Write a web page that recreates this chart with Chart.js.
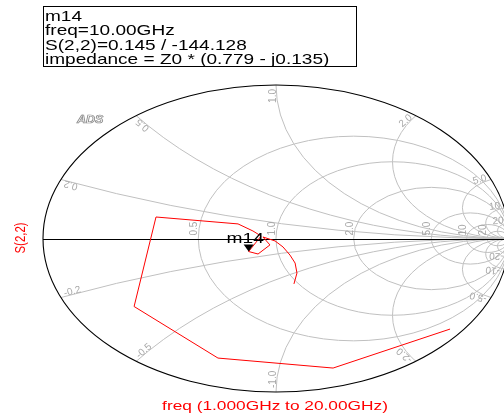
<!DOCTYPE html>
<html>
<head>
<meta charset="utf-8">
<script src="https://cdn.jsdelivr.net/npm/chart.js@4/dist/chart.umd.min.js"></script>
<style>
  html, body { margin: 0; padding: 0; background: #fff; }
  #c { display: block; }
</style>
</head>
<body>
<canvas id="c" width="504" height="416"></canvas>
<script>
const traceRe = [0.077, 0.090, 0.082, 0.060, 0.030, -0.004, -0.056, -0.026, -0.077, -0.1175, -0.064, -0.099, -0.163, -0.515, -0.609, -0.249, 0.245, 0.747];
const traceIm = [-0.296, -0.225, -0.160, -0.108, -0.055, -0.016, 0.010, -0.042, -0.101, -0.0849, 0.016, 0.049, 0.095, 0.140, -0.443, -0.779, -0.844, -0.590];
const markerIndex = 9;   // m14 at 10 GHz
const markerName = "m14";
const markerLines = ["m14", "freq=10.00GHz", "S(2,2)=0.145 / -144.128", "impedance = Z0 * (0.779 - j0.135)"];

// Smith chart grid values
const resistanceCircles = [0.5, 1, 2, 5, 10, 20];
const resistanceLabels = ["0.5", "1.0", "2.0", "5.0", "10", "20"];
const reactanceArcs = [0.2, 0.5, 1, 2, 5, 10, 20];
const reactanceLabels = ["0.2", "0.5", "1.0", "2.0", "5.0", "10", "20"];

const yTitle = "S(2,2)";
const xTitle = "freq (1.000GHz to 20.00GHz)";

const points = traceRe.map((re, i) => ({ x: re, y: traceIm[i] }));

const smithPlugin = {
  id: 'smith',
  beforeDatasetsDraw(chart) {
    const ctx = chart.ctx;
    const xs = chart.scales.x, ys = chart.scales.y;
    const X = v => xs.getPixelForValue(v), Y = v => ys.getPixelForValue(v);
    const cx = X(0), cy = Y(0);
    const rx = X(1) - cx, ry = cy - Y(1);

    ctx.save();
    // grid clipped to unit circle
    ctx.save();
    ctx.beginPath();
    ctx.ellipse(cx, cy, rx, ry, 0, 0, Math.PI * 2);
    ctx.clip();
    ctx.strokeStyle = '#c0c0c0';
    ctx.lineWidth = 1;
    resistanceCircles.forEach(r => {
      const gc = r / (r + 1), rad = 1 / (r + 1);
      ctx.beginPath();
      ctx.ellipse(X(gc), cy, rad * rx, rad * ry, 0, 0, Math.PI * 2);
      ctx.stroke();
    });
    reactanceArcs.forEach(xv => {
      [1, -1].forEach(s => {
        const rad = 1 / xv;
        ctx.beginPath();
        ctx.ellipse(X(1), Y(s / xv), rad * rx, rad * ry, 0, 0, Math.PI * 2);
        ctx.stroke();
      });
    });
    ctx.restore();

    // outer circle and real axis
    ctx.strokeStyle = '#000';
    ctx.lineWidth = 1.1;
    ctx.beginPath();
    ctx.ellipse(cx, cy, rx, ry, 0, 0, Math.PI * 2);
    ctx.stroke();
    ctx.lineWidth = 1;
    ctx.beginPath();
    ctx.moveTo(X(-1), Math.round(cy) + 0.5);
    ctx.lineTo(X(1), Math.round(cy) + 0.5);
    ctx.stroke();

    // grid labels
    ctx.fillStyle = '#a8a8a8';
    ctx.font = '10px "Liberation Sans", Arial, sans-serif';
    ctx.textBaseline = 'alphabetic';
    resistanceCircles.forEach((r, i) => {
      const gl = (r - 1) / (r + 1);
      ctx.save();
      ctx.translate(X(gl) - 1, cy - 3);
      ctx.rotate(-Math.PI / 2);
      ctx.textAlign = 'left';
      ctx.fillText(resistanceLabels[i], 0, 0);
      ctx.restore();
    });
    reactanceArcs.forEach((xv, i) => {
      [1, -1].forEach(s => {
        const gx = (xv * xv - 1) / (xv * xv + 1);
        const gy = s * 2 * xv / (xv * xv + 1);
        const px = X(gx), py = Y(gy);
        let dx = -gx * rx, dy = gy * ry;
        const L = Math.hypot(dx, dy); dx /= L; dy /= L;
        const ax = px + dx * 4, ay = py + dy * 4;
        ctx.save();
        ctx.translate(ax, ay);
        if (s > 0) {
          ctx.rotate(Math.atan2(-dy, -dx));
          ctx.textAlign = 'right';
          ctx.fillText(reactanceLabels[i], 0, 0);
        } else {
          ctx.rotate(Math.atan2(dy, dx));
          ctx.textAlign = 'left';
          ctx.fillText('-' + reactanceLabels[i], 0, 0);
        }
        ctx.restore();
      });
    });

    // ADS logo
    ctx.save();
    ctx.font = 'italic bold 10px "Liberation Sans", Arial, sans-serif';
    ctx.strokeStyle = '#8a8a8a';
    ctx.lineWidth = 0.7;
    ctx.textAlign = 'left';
    ctx.translate(77, 123);
    ctx.scale(1.25, 1);
    ctx.strokeText('ADS', 0, 0);
    ctx.restore();
    ctx.restore();
  },
  afterDatasetsDraw(chart) {
    const ctx = chart.ctx;
    const xs = chart.scales.x, ys = chart.scales.y;
    const mx = xs.getPixelForValue(traceRe[markerIndex]);
    const my = ys.getPixelForValue(traceIm[markerIndex]);
    ctx.save();
    // marker triangle (tip at data point)
    ctx.fillStyle = '#000';
    ctx.beginPath();
    ctx.moveTo(mx, my);
    ctx.lineTo(mx - 5, my - 7);
    ctx.lineTo(mx + 5, my - 7);
    ctx.closePath();
    ctx.fill();
    // marker name
    ctx.font = '15px "Liberation Sans", Arial, sans-serif';
    ctx.textAlign = 'left';
    ctx.textBaseline = 'alphabetic';
    ctx.save();
    ctx.translate(mx - 22, my - 8.5);
    ctx.scale(1.28, 1);
    ctx.fillText(markerName, 0, 0);
    ctx.restore();

    // marker readout box
    ctx.fillStyle = '#fff';
    ctx.fillRect(43, 6, 314, 61);
    ctx.strokeStyle = '#000';
    ctx.lineWidth = 1;
    ctx.strokeRect(43.5, 6.5, 313, 60);
    ctx.fillStyle = '#000';
    markerLines.forEach((t, i) => {
      ctx.save();
      ctx.translate(45, 20.5 + i * 14.5);
      ctx.scale(1.27, 1);
      ctx.fillText(t, 0, 0);
      ctx.restore();
    });

    // axis titles
    ctx.fillStyle = '#ff0000';
    ctx.font = '13px "Liberation Sans", Arial, sans-serif';
    ctx.save();
    ctx.translate(275, 410);
    ctx.scale(1.33, 1);
    ctx.textAlign = 'center';
    ctx.fillText(xTitle, 0, 0);
    ctx.restore();
    ctx.save();
    ctx.translate(25, 238);
    ctx.rotate(-Math.PI / 2);
    ctx.textAlign = 'center';
    ctx.font = '14px "Liberation Sans", Arial, sans-serif';
    ctx.fillText(yTitle, 0, 0, 31);
    ctx.restore();
    ctx.restore();
  }
};

new Chart(document.getElementById('c'), {
  type: 'scatter',
  data: {
    datasets: [{
      data: points,
      showLine: true,
      borderColor: '#ff0000',
      borderWidth: 1,
      pointRadius: 0,
      tension: 0,
      fill: false
    }]
  },
  options: {
    responsive: false,
    animation: false,
    layout: { padding: 0 },
    plugins: { legend: { display: false }, tooltip: { enabled: false } },
    scales: {
      x: { type: 'linear', display: false, min: -276 / 233, max: (504 - 276) / 233 },
      y: { type: 'linear', display: false, min: -(416 - 238.5) / 153.5, max: 238.5 / 153.5 }
    }
  },
  plugins: [smithPlugin]
});
</script>
</body>
</html>
